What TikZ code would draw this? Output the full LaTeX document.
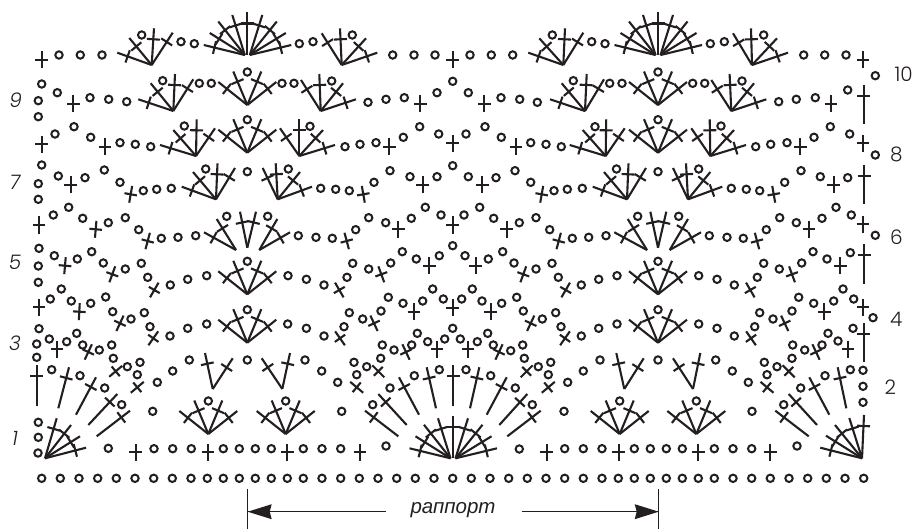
\documentclass[tikz,border=0pt]{standalone}
\usepackage{fontspec}
\newfontfamily\numf{Poppins}[UprightFont=* Light,ItalicFont=* Light Italic]
\newfontfamily\repf{Liberation Sans}
\usetikzlibrary{calc}
\definecolor{ink}{HTML}{231F20}
\tikzset{
  inkline/.style={draw=ink,line width=2.1pt},
  ringmark/.style={draw=ink,line width=2pt},
  dimline/.style={draw=ink,line width=1.3pt},
  rowlabel/.style={text=ink,font=\numf\fontsize{20}{20}\selectfont,inner sep=0pt},
  oddlabel/.style={rowlabel,font=\numf\fontsize{20}{20}\selectfont\itshape},
}
\newcommand{\rng}[1]{\foreach \xx/\yy in {#1}{\draw[ringmark] (\xx,\yy) circle (3.7);}}
\newcommand{\plz}[1]{\foreach \xx/\yy/\aa in {#1}{\draw[inkline,shift={(\xx,\yy)},rotate=\aa] (-6.3,0)--(6.3,0) (0,-8.5)--(0,8.5);}}
\newcommand{\stm}[1]{\foreach \xa/\ya/\xb/\yb in {#1}{%
  \draw[inkline] (\xa,\ya)--(\xb,\yb);
  \coordinate (pp) at ($(\xb,\yb)!11pt!(\xa,\ya)$);
  \draw[inkline] ($(pp)!6.5pt!90:(\xb,\yb)$)--($(pp)!6.5pt!-90:(\xb,\yb)$);}}
% small four-ray fan with a ring in it
\newcommand{\fanf}[2]{\begin{scope}[shift={(#1,#2)}]
  \stm{0/0/-29/-23,0/0/-14/-33.5,0/0/14/-33.5,0/0/29/-23}
  \rng{0/-33}
\end{scope}}
% nine-ray fan
\newcommand{\bigf}[3]{\begin{scope}[shift={(#1,#2)}]
  \stm{-2.5/#3/-43.5/-10,-2.5/#3/-37.5/-22,-2.5/#3/-29/-33.5,-2.5/#3/-15/-40,0/#3/0/-42.5,2.5/#3/15/-40,2.5/#3/29.5/-33.5,2.5/#3/38.5/-22,2.5/#3/44/-10}
\end{scope}}
\begin{document}
\begin{tikzpicture}[x=1pt,y=-1pt,line cap=butt]
\useasboundingbox (0,0) rectangle (917,529);
% foundation chain
\rng{41.7/478.3,60.3/478.3,79/478.3,97.7/478.3,116.3/478.3,135/478.3,153.7/478.3,172.3/478.3,191/478.3,207.3/478.3,223.3/478.3,239.3/478.3,255.3/478.3,271.3/478.3,287.3/478.3,303.3/478.3,322/478.3,340.7/478.3,359.3/478.3,378/478.3,396.7/478.3,415.3/478.3,434/478.3,452.7/478.3,471.3/478.3,490/478.3,508.7/478.3,527.3/478.3,546/478.3,564.7/478.3,583.3/478.3,602/478.3,618.3/478.3,634.3/478.3,650.3/478.3,666.3/478.3,682.3/478.3,698.3/478.3,714.3/478.3,733/478.3,751.7/478.3,770.3/478.3,789/478.3,807.7/478.3,826.3/478.3,845/478.3,863.7/478.3}
% row 1
\rng{108.3/448.3,154/448.7,172.7/448.7,191.3/448.7,223.3/448.7,239.3/448.7,255.3/448.7,271.3/448.7,303.3/448.7,322/448.7,340.7/448.7,386/446,519.3/449,564.7/448.7,583.3/448.7,602/448.7,634.3/448.7,650.3/448.7,666.3/448.7,682.3/448.7,714.3/448.7,733/448.7,751.7/448.7,797/446,38.3/422.3,38.3/437.3,38/453}
\plz{135.7/452.3/0,208/452.3/0,287.3/452.3/0,360/452.3/0,546.7/452.3/0,618.7/452.3/0,698.3/452.3/0,770.3/452.3/0}
\stm{45/458.3/56.7/418.3,45/458.3/71/425,45/458.3/80/436.3,45/458.3/86/447.7}
\stm{862/458.3/864/415,862/458.3/849.3/418,862/458.3/835/425,862/458.3/826/435.7,862/458.3/820.3/447.7}
\bigf{453}{458.3}{0}
\fanf{208.3}{434}\fanf{285.7}{434}\fanf{619.7}{434}\fanf{696.3}{434}
% row 2
\stm{212.7/389/205/353,212.7/389/232.7/358.3,282.3/389/290/353,282.3/389/261.7/358.3,624.3/389/616.3/353,624.3/389/643.7/358.3,693/389/700.3/353,693/389/673/358.3}
\stm{36.7/406.3/36.7/365,58.3/408.3/69/367.3,76/414.7/96/377.3,88.3/425/117.3/394,96.7/436.3/130/410.7}
\stm{846.3/408.3/837.7/367.3,829.3/414.7/809.3/377.3,817/425/788.7/394,808.7/436.3/775.3/410.7}
\stm{453.3/406.3/453.3/365,470/408.3/479.3/367.3,486.7/414.7/506.7/377.3,499.3/425/527.3/394,507.3/436.3/540.7/410.7,436/408.3/426.7/367.3,419/414.7/399/377.3,406.7/425/378.3/394,398.3/436.3/365/410.7}
\rng{247.3/360,305/360,189.3/360,172.7/371,157.3/382.3,152.7/411.3,51.7/369.7,80/375.7,104.7/388,121.7/404.7,137.3/374.7,127.3/366.7,140/362.3,113.3/358.3,36.7/357.3}
\rng{863/402.3,863/386.3,863/370.3,850.3/369.7,825/375.7,800.7/388,783.7/404.7,792/358.3,777/366.7,764.3/362.3,767/374.7,748.3/382.3,732.3/371,715.7/360,658/360,752/411.3}
\rng{439.3/369.7,466/369.7,414.3/375.7,490.7/375.7,390/388,515.3/388,372.7/404.7,532.3/404.7,341.7/411.3,564/411.3,356.7/374.7,548.3/374.7,366.7/366.7,538.3/366.7,354/362.3,550.7/362.3,380.7/358.3,524.3/358.3,337.7/382.3,567.7/382.3,321.7/371,583.3/371,600/360}
\plz{137.3/387.3/-50,356.7/387.3/50,548.3/387.3/-50,767/387.3/50,115.7/371.3/-50,378.3/371.3/45,526.7/371.3/-45,788.7/371.3/45}
% row 3
\rng{39/328.7,36.7/344,49.3/339,66.7/341.7,76.7/333.3,82.7/345,99.3/350,111.7/345,150/326.7,144.3/312.7,131/319,112.7/311.7,105.7/297,90.7/303.3,71.3/301,61.3/289,50.3/299,170/336,187.7/328.3,206.7/324,287.7/324,306.4/328.3,324/336,344/326.7,349.3/312.7,362.7/319,381/311,388.3/297.3,403/303.3,422.7/301,432.7/289,443.3/299,461.7/299,472.3/289,482/301,501.7/303.3,516.7/297.3,523.3/311,542.3/319,555.7/312.7,561/326.7,581.3/336,598.7/328.3,617/324,698.7/324,717/328.3,734.3/336,754.7/326.7,759.7/312.7,773/319,792/311,798.7/297.3,813.7/303.3,833.7/301,843/289,853.7/299,873/317.7,853/328.3,838/341,828/333.3,822/345,804.7/350,792.7/345}
\rng{382.3/345,394/350,411.7/345,417.3/333.3,427.7/341.7,444.7/339,452.7/328.3,460.3/339,477.3/341.7,487.7/333.3,493.3/345,510.7/350.7,522.7/345}
\plz{57/349/0,88.3/352/-25,406/352/25,437/349/0,468/349/0,499/352/-25,816/352/25,848/349/0}
\plz{39/307.3/0,79.3/311.7/-3,120/323.3/-25,153.3/338.3/-35,340/338.3/35,374/323.3/25,414/311.7/0,452.7/307.7/0,490.7/311.7/0,530.7/323.3/-25,565/338.3/-35,751/338.3/35,784.7/323.3/25,824.3/311.7/0,863/307.3/0}
\fanf{247.3}{342.7}\fanf{658}{342.7}
\stm{863.7/362.3/863.7/323.3}
% row 5
\rng{39/248.3,38.3/266,38.3/282.3,54.3/255.7,77.3/259,91.7/251.7,103.3/263,125.3/269,141.3/263.3,147.7/277.3,170.3/285,187.7/279.3,206.7/275.7,288/275.7,306.4/279.3,324/285,347/277.3,352.7/263.3,368.7/269,390.7/263,402.3/251.7,416.3/259,439.3/255.7,452.7/245.7,465/255.7,488.3/259,502.7/251.7,514/263,536/269,552/263.3,558.3/277.3,581.3/285,598.7/279.3,617/275.7,698.7/275.7,717/279.3,734.3/285,757.3/277.3,763.7/263.3,779.3/269,801.7/263,813/251.7,827/259,850.3/252.7}
\plz{65/265.7/-5,112.3/274.3/-20,154.3/290/-30,339.3/290/30,381.3/274.3/20,429.3/265.7/0,475.7/265.7/0,523.3/274.3/-20,565.7/290/-30,750.3/290/30,792/274.3/20,840.3/265.7/0}
\fanf{247.3}{294.3}\fanf{658}{294.3}
\stm{864/284.3/864/244.3}
% row 6
\rng{53.3/215,68.7/207.3,82.7/218.3,108.3/222.7,125.3/217.7,138.7/229.7,161.3/238.3,178/237.3,195.7/235.7,226.7/216.3,267.7/216.3,298.3/235.7,316/237.3,332.3/238.3,355.7/229.7,368.7/217.7,385.7/222.7,411.3/218.3,425.3/207.3,441/215,464/215,479.7/207.3,493.7/218.3,519.3/222.7,536/217.7,549.7/229.7,572.3/238.3,588.7/237.3,606/235.7,637.7/216.3,678.7/216.3,709.3/235.7,727/237.3,743.3/238.3,766.3/229.7,779.7/217.7,796.3/222.7,822/218.3,836/207.3,851.3/215,875.3/235.3}
\plz{39/225/0,95.7/229.3/-5,147.7/241/-15,346.7/241/15,398.3/229.3/0,452.7/225/0,506.7/229.3/0,558.7/241/-15,757/241/15,809/229.3/0,863/224.3/0}
\stm{236/250/204/232.3,236/250/216.7/219,247.3/247.7/240/211.7,247.3/247.7/256/211.7,259.3/250/277.3/219,259.3/250/290/232.3}
\stm{647/250/614.3/232.3,647/250/627.7/219,658/247.7/650.3/211.7,658/247.7/666.3/211.7,669.7/250/688/219,669.7/250/701/232.3}
% row 7
\rng{38.3/183.7,38.3/199.3,41.7/165,58.3/176,85/177.7,104.3/170,120/182.3,143.3/190.7,156.7/189.3,171.3/188.3,205.7/169,247.3/171.7,288.3/169,320.7/188.3,335.7/189.3,349.3/190.7,374/182.3,390/170.7,410/176.7,437/176.7,452.7/165.7,468.3/176.7,496/177.7,515/170.7,530.7/182.3,554/190.7,567.3/189.3,582.3/188.3,616.5/169,658/171.7,698.7/169,731.3/188.3,746.3/189.3,759.7/190.7,784.7/182.3,801/170.7,820.3/176.7,847.7/177.7}
\plz{70.7/185/0,130.7/194.3/-10,363.3/194.3/10,422.7/185/0,482.3/185/0,541.7/194.3/-10,773.7/194.3/10,833.7/185/0}
\stm{216/199.3/181.7/186.7,216/199.3/193/172,216/199.3/217.5/163.3,216/199.3/235/168,277.7/199.3/262.7/168,277.7/199.3/275.7/163.3,277.7/199.3/300/172,277.7/199.3/312/186.7}
\stm{627/199.3/592.7/186.7,627/199.3/604/172,627/199.3/628.5/163.3,627/199.3/646/168,688/199.3/673/168,688/199.3/686/163.3,688/199.3/710.3/172,688/199.3/722.3/186.7}
\stm{864/204.3/864/165}
% row 8
\rng{55/134,74/126.7,90.7/137.3,120/142.7,135.3/144.3,150.7/146.7,184.3/126,310/126.3,345/146.7,360/144.3,376/142.7,403.3/137.3,419.7/126.7,438.7/134,466/134,485/126.7,501.3/137.3,530.7/142.7,546/144.3,561.3/146.7,595/126.7,721/126,755.7/146.7,770.7/144.3,787/142.7,814/137.3,830.3/126.7,849.7/134,875.3/155}
\plz{41.7/144.3/0,105/146.7/0,389.3/146.7/0,452.7/143.3/0,516/146.7/0,800.3/146.7/0,863/143.3/0}
\stm{196/156/160/145,196/156/173.3/130,196/156/196.7/119.3,196/156/215/128.3}
\stm{299.3/156/280/128.3,299.3/156/299.3/119.3,299.3/156/323/130,299.3/156/335/145}
\stm{605.7/156/569.7/145,605.7/156/582.7/130,605.7/156/606.2/119.3,605.7/156/624.7/128.3}
\stm{710.3/156/691.3/128.3,710.3/156/709.7/119.3,710.3/156/734/130,710.3/156/746/145}
\fanf{247.3}{152.7}\fanf{658}{152.7}
% row 9
\rng{41.7/84,57.3/92.7,38.3/100.7,38.3/116.7,90/97.7,108.7/99.3,126.7/101.7,162.7/80.7,199.3/83.3,211.3/83.3,282/83.3,294/83.3,331.7/81,368/102.3,386/99.3,404.3/97.7,437/92.7,452.7/81.3,468.3/92.7,501/97.7,519.7/99.3,537.3/102.3,573.3/80.7,609.7/83.3,622/83.3,692.7/83.3,704.7/83.3,742/81,778.7/101.7,796.3/99.3,815.3/97.7,847.7/90}
\plz{73.3/104/0,420.3/104/0,484.3/104/0,831/104/0}
\stm{173.3/111/138.3/99.3,173.3/111/150.7/83.3,173.3/111/175/74,173.3/111/193.3/79.3}
\stm{320.7/111/301/80,320.7/111/319.3/74,320.7/111/343/83.3,320.7/111/356/99.3}
\stm{585/111/550/99.3,585/111/561.7/83.3,585/111/586.7/74,585/111/604/79.3}
\stm{731.3/111/711.3/80,731.3/111/729.6/74,731.3/111/754/83.3,731.3/111/766.3/99.3}
\fanf{247.3}{105}\fanf{658}{105}
\stm{863.7/124/863.7/85}
% row 10
\rng{59/55,80.3/55,102/55,141.7/35,181/41.7,194.3/43.7,299.3/43.7,313/41.7,352.3/35,392.7/55,414/55,435/55,470/55,491.3/55,512.7/55,552.3/35,591.7/41.7,605/43.7,710.3/43.7,724.3/41.7,763.7/35,803.7/55,824.7/55,846/55,875.3/75.7}
\plz{41.7/60/0,452.7/60/0,863/60/0}
\stm{151.7/65/117.3/52.7,151.7/65/129.3/38,151.7/65/154/28.3,151.7/65/172.7/32.7}
\stm{341.7/65/321.7/33.3,341.7/65/340/28.3,341.7/65/366/38.3,341.7/65/377.3/52.7}
\stm{563.3/65/528.3/52.7,563.3/65/539.3/38.3,563.3/65/565/28.3,563.3/65/583.3/32.7}
\stm{752/65/733/33.3,752/65/751/28.3,752/65/777/38.3,752/65/788/52.7}
\bigf{247.3}{55}{0}\bigf{658}{55}{0}
% row numbers
\node[oddlabel] (n9) at (15.7,100.7) {9};
\node[oddlabel] (n7) at (15,182) {7};
\node[oddlabel] (n5) at (15,262.3) {5};
\node[oddlabel] (n3) at (15,343) {3};
\node[oddlabel] (n1) at (15,438.3) {1};
\node[rowlabel] (n10) at (903.7,74) {10};
\node[rowlabel] (n8) at (896.3,154.3) {8};
\node[rowlabel] (n6) at (896.3,237.3) {6};
\node[rowlabel] (n4) at (896.3,319) {4};
\node[rowlabel] (n2) at (890.3,387.3) {2};
% repeat marker
\coordinate (la) at (247.7,489);\coordinate (lb) at (247.7,529);
\coordinate (ra) at (658.7,489);\coordinate (rb) at (658.7,529);
\coordinate (lt) at (247.7,511.7);\coordinate (rt) at (658.7,511.7);
\node[text=ink,font=\repf\fontsize{20.5}{20.5}\selectfont\itshape,inner sep=0pt] (rep) at (453,510) {раппорт};
\coordinate (lm) at (386,511.7);\coordinate (rm) at (521.7,511.7);
\draw[dimline] (la)--(lb);
\draw[dimline] (ra)--(rb);
\draw[dimline] (lt)--(lm);
\draw[dimline] (rm)--(rt);
\fill[ink] (lt)--++(24,-7.5)--++(-2,7.5)--++(2,7.5)--cycle;
\fill[ink] (rt)--++(-24,-7.5)--++(2,7.5)--++(-2,7.5)--cycle;
\end{tikzpicture}
\end{document}
